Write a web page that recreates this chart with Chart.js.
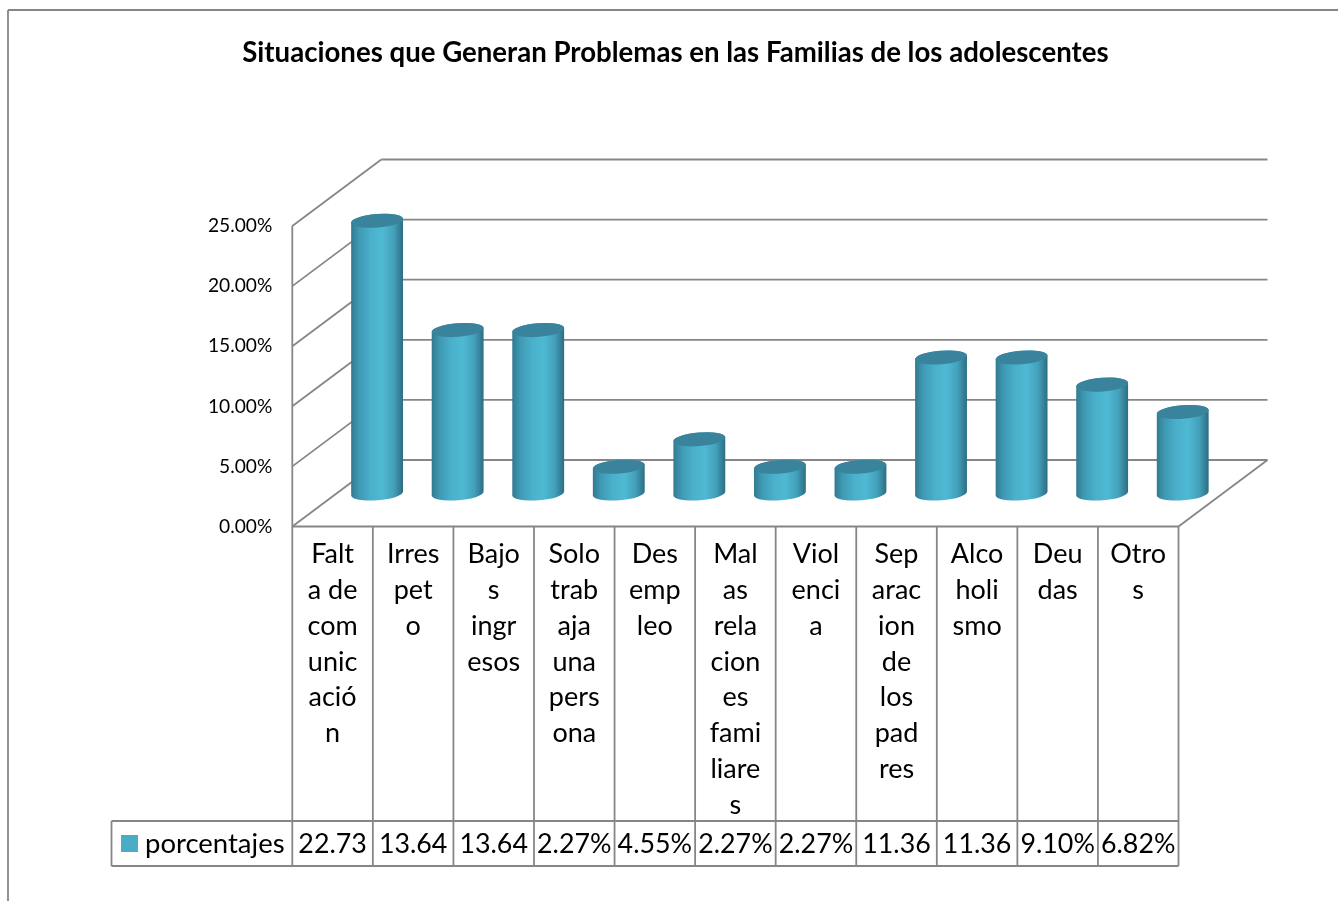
<!DOCTYPE html>
<html><head><meta charset="utf-8">
<style>html,body{margin:0;padding:0;background:#fff}canvas{display:block}</style>
<script src="https://cdn.jsdelivr.net/npm/chart.js@4"></script>
</head><body><canvas id="c" width="1338" height="901"></canvas>
<script>
const chartTitle = 'Situaciones que Generan Problemas en las Familias de los adolescentes';
const categories = ['Falta de comunicación','Irrespeto','Bajos ingresos','Solo trabaja una persona','Desempleo','Malas relaciones familiares','Violencia','Separacion de los padres','Alcoholismo','Deudas','Otros'];
const wrappedLabels = [
  ['Falt','a de','com','unic','ació','n'],['Irres','pet','o'],['Bajo','s','ingr','esos'],
  ['Solo','trab','aja','una','pers','ona'],['Des','emp','leo'],['Mal','as','rela','cion','es','fami','liare','s'],
  ['Viol','enci','a'],['Sep','arac','ion','de','los','pad','res'],['Alco','holi','smo'],['Deu','das'],['Otro','s']];
const seriesName = 'porcentajes';
const values = [22.73,13.64,13.64,2.27,4.55,2.27,2.27,11.36,11.36,9.10,6.82];
const tableText = ['22.73','13.64','13.64','2.27%','4.55%','2.27%','2.27%','11.36','11.36','9.10%','6.82%'];
const yTicks = [0,5,10,15,20,25];

const FONT='Lato, Carlito, sans-serif', LINE='#868686', DX=89, DY=-66.5, BAR_DX=44.5, BAR_DY=-33;
const TABLE_TOP=821, TABLE_BOTTOM=866, TABLE_LEFT=111.5;

Chart.BarElement.prototype.draw = function(ctx){
  const cx=this.x+BAR_DX, yT=this.y+BAR_DY+0.5, yB=this.base+BAR_DY, rx=this.width/2, ry=6.8, rot=-4.4*Math.PI/180;
  const g=ctx.createLinearGradient(cx-rx,0,cx+rx,0);
  g.addColorStop(0,'#327a90');g.addColorStop(.16,'#3f9ab4');g.addColorStop(.38,'#4ab0cb');
  g.addColorStop(.6,'#4fb9d4');g.addColorStop(.82,'#43a0ba');g.addColorStop(1,'#2c6d82');
  ctx.save();
  ctx.beginPath();
  ctx.ellipse(cx,yB,rx,ry,rot,Math.PI,0,true);
  ctx.ellipse(cx,yT,rx,ry,rot,0,Math.PI,true);
  ctx.closePath();ctx.fillStyle=g;ctx.fill();
  ctx.beginPath();ctx.ellipse(cx,yT,rx,ry,rot,0,Math.PI*2);
  ctx.fillStyle='#3a839c';ctx.fill();
  ctx.restore();
};

const frame={id:'frame',beforeDatasetsDraw(chart){
  const {ctx,scales:{x,y}}=chart, L=x.left, R=x.right;
  const line=(a,b,c,d)=>{ctx.beginPath();ctx.moveTo(a,b);ctx.lineTo(c,d);ctx.stroke();};
  ctx.save();ctx.strokeStyle=LINE;ctx.lineWidth=1.8;
  line(8,901,8,10);line(8,10,1338,10);
  yTicks.forEach(v=>{const p=y.getPixelForValue(v);
    line(L,p,L+DX,p+DY);line(L+DX,p+DY,R+DX,p+DY);});
  const b=y.getPixelForValue(0);
  line(L,y.getPixelForValue(25),L,TABLE_BOTTOM);
  line(L,b,R,b);line(R,b,R+DX,b+DY);
  ctx.restore();
},afterDraw(chart){
  const {ctx,scales:{x,y}}=chart, b=y.getPixelForValue(0), band=(x.right-x.left)/categories.length;
  const line=(a,c,d,e)=>{ctx.beginPath();ctx.moveTo(a,c);ctx.lineTo(d,e);ctx.stroke();};
  ctx.save();ctx.strokeStyle=LINE;ctx.lineWidth=1.8;
  for(let i=1;i<=categories.length;i++){const px=x.left+i*band;line(px,b,px,TABLE_BOTTOM);}
  line(TABLE_LEFT,TABLE_TOP,x.right,TABLE_TOP);line(TABLE_LEFT,TABLE_BOTTOM,x.right,TABLE_BOTTOM);
  line(TABLE_LEFT,TABLE_TOP,TABLE_LEFT,TABLE_BOTTOM);
  ctx.fillStyle='#4bacc6';ctx.fillRect(121,835,17,17);
  ctx.fillStyle='#000';ctx.textBaseline='middle';
  ctx.font='27.5px '+FONT;ctx.textAlign='left';ctx.fillText(seriesName,145,844);
  ctx.font='26.8px '+FONT;ctx.textAlign='center';
  tableText.forEach((t,i)=>ctx.fillText(t,x.getPixelForTick(i),844));
  ctx.restore();
}};

new Chart(document.getElementById('c'),{
  type:'bar',
  data:{labels:wrappedLabels,datasets:[{label:seriesName,data:values,backgroundColor:'#4bacc6',clip:false,categoryPercentage:1,barPercentage:52/80.55}]},
  options:{responsive:false,animation:false,
    layout:{padding:{left:172.3,right:159.5,top:36.5,bottom:0}},
    plugins:{legend:{display:false},tooltip:{enabled:false},
      title:{display:true,text:chartTitle,color:'#000',font:{family:FONT,size:27.6,weight:'bold',lineHeight:1.2},padding:{top:0,bottom:156.4}}},
    scales:{
      x:{grid:{display:false},border:{display:false},
        afterFit(s){s.height=374.5;},
        ticks:{autoSkip:false,maxRotation:0,minRotation:0,padding:2,color:'#000',font:{family:FONT,size:27,lineHeight:'35.8px'}}},
      y:{min:0,max:25,grid:{display:false},border:{display:false},
        afterFit(s){s.width=120;},
        ticks:{stepSize:5,padding:12,color:'#000',font:{family:FONT,size:19.2},callback:v=>v.toFixed(2)+'%'}}
    }},
  plugins:[frame]
});
</script></body></html>
